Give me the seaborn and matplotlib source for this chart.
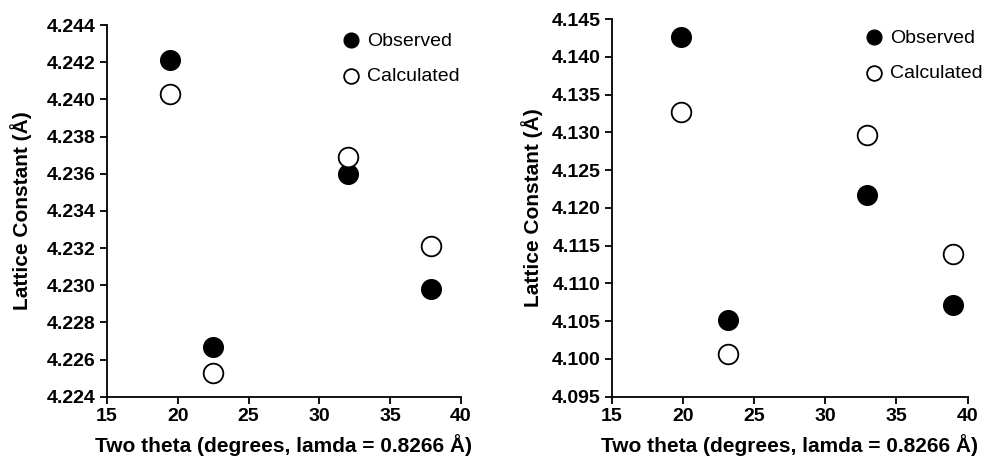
import matplotlib
matplotlib.use("Agg")
import matplotlib.pyplot as plt
import seaborn as sns
import pandas as pd

# Left panel
theta_left = [19.45, 22.5, 32.0, 37.85]
obs_left = [4.2421, 4.2267, 4.2360, 4.2298]
calc_left = [4.2403, 4.2253, 4.2369, 4.2321]

# Right panel
theta_right = [19.9, 23.2, 32.95, 38.95]
obs_right = [4.1426, 4.1052, 4.1217, 4.1071]
calc_right = [4.1327, 4.1007, 4.1297, 4.1139]

yticks_left = [4.224, 4.226, 4.228, 4.230, 4.232, 4.234, 4.236, 4.238, 4.240, 4.242, 4.244]
yticks_right = [4.095, 4.100, 4.105, 4.110, 4.115, 4.120, 4.125, 4.130, 4.135, 4.140, 4.145]
xticks = [15, 20, 25, 30, 35, 40]

sns.set_style("ticks")
plt.rcParams['font.family'] = ['Liberation Sans', 'DejaVu Sans']
plt.rcParams['text.color'] = 'black'
plt.rcParams['axes.labelcolor'] = 'black'
plt.rcParams['xtick.color'] = 'black'
plt.rcParams['ytick.color'] = 'black'

fig = plt.figure(figsize=(9.86, 4.57), dpi=100)
ax1 = fig.add_axes([0.1085, 0.132, 0.359, 0.813])
ax2 = fig.add_axes([0.6204, 0.132, 0.361, 0.826])


def draw_panel(ax, theta, obs, calc, yticks, ylabelpad, legend_anchor):
    df = pd.DataFrame({'theta': theta, 'obs': obs, 'calc': calc})
    sns.scatterplot(data=df, x='theta', y='obs', ax=ax, s=200, color='black',
                    edgecolor='black', linewidth=1, label='Observed', zorder=3)
    sns.scatterplot(data=df, x='theta', y='calc', ax=ax, s=200, color='white',
                    edgecolor='black', linewidth=1.3, label='Calculated', zorder=3)
    ax.set_xlim(15, 40)
    ax.set_ylim(yticks[0], yticks[-1])
    ax.set_xticks(xticks)
    ax.set_yticks(yticks)
    ax.set_yticklabels(['{:.3f}'.format(v) for v in yticks])
    for lab in ax.get_xticklabels() + ax.get_yticklabels():
        lab.set_fontweight('bold')
        lab.set_fontsize(14)
    ax.tick_params(direction='out', length=5, width=1.3, pad=3)
    for sp in ['left', 'bottom']:
        ax.spines[sp].set_linewidth(1.3)
        ax.spines[sp].set_color('black')
    sns.despine(ax=ax)
    ax.set_xlabel('Two theta (degrees, lamda = 0.8266 Å)', fontsize=15, fontweight='bold',
                  labelpad=7)
    ax.set_ylabel('Lattice Constant (Å)', fontsize=15, fontweight='bold', labelpad=ylabelpad)
    ax.legend(loc='upper right', bbox_to_anchor=legend_anchor, frameon=False, fontsize=14,
              markerscale=0.75, labelspacing=0.9, handlelength=1.0, handletextpad=0.35,
              borderaxespad=0.2)


draw_panel(ax1, theta_left, obs_left, calc_left, yticks_left, 11, (1.03, 1.013))
draw_panel(ax2, theta_right, obs_right, calc_right, yticks_right, 6, (1.075, 1.005))

fig.savefig('out.png', dpi=100)
